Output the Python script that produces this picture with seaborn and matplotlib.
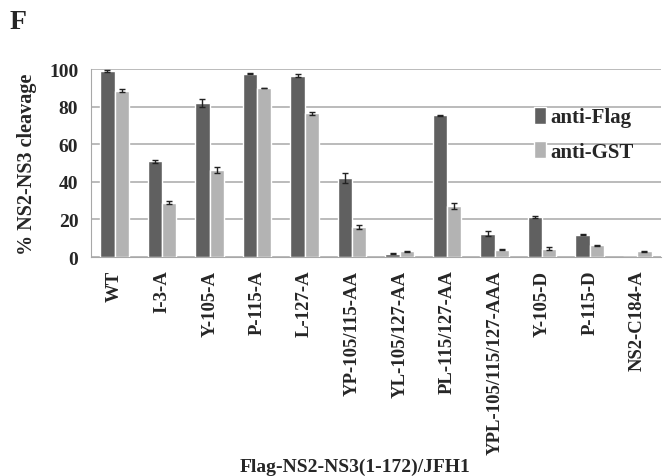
import matplotlib
matplotlib.use("Agg")
import matplotlib.pyplot as plt
import seaborn as sns
import pandas as pd
import numpy as np

categories = ["WT", "I-3-A", "Y-105-A", "P-115-A", "L-127-A", "YP-105/115-AA",
              "YL-105/127-AA", "PL-115/127-AA", "YPL-105/115/127-AAA",
              "Y-105-D", "P-115-D", "NS2-C184-A"]
flag_vals = [99.0, 51.0, 82.0, 97.5, 96.5, 42.0, 1.8, 75.5, 12.5, 21.5, 12.0, 0.0]
gst_vals = [88.5, 29.0, 46.5, 90.0, 76.5, 16.0, 3.0, 27.0, 4.0, 4.5, 6.2, 3.0]
flag_err = [0.3, 0.8, 2.3, 0.3, 0.8, 2.8, 0.3, 0.2, 1.2, 0.5, 0.3, 0.0]
gst_err = [0.7, 0.7, 1.6, 0.2, 0.8, 1.3, 0.3, 1.5, 0.3, 0.6, 0.3, 0.3]
series = ["anti-Flag", "anti-GST"]

df = pd.DataFrame({
    "mutant": categories * 2,
    "value": flag_vals + gst_vals,
    "series": [series[0]] * len(categories) + [series[1]] * len(categories),
})

sns.set_style("white")
plt.rcParams["font.family"] = ["Liberation Serif", "DejaVu Serif"]
plt.rcParams["font.weight"] = "bold"

fig = plt.figure(figsize=(6.63, 4.77), dpi=100)
ax = fig.add_axes([0.137, 0.459, 0.86, 0.394])

colors = ["#606060", "#b3b3b3"]
sns.barplot(data=df, x="mutant", y="value", hue="series", palette=colors,
            width=0.6, errorbar=None, ax=ax, zorder=3, saturation=1)

# error bars at bar centers (skip zero-height bars)
for cont, errs in zip(ax.containers, [flag_err, gst_err]):
    for p, e in zip(cont.patches, errs):
        if p.get_height() <= 0:
            continue
        ax.errorbar([p.get_x() + p.get_width() / 2], [p.get_height()], yerr=[e],
                    fmt="none", ecolor="#222222", elinewidth=1, capsize=2.5,
                    capthick=1, zorder=4)

ax.set_ylim(0, 100)
ax.set_xlim(-0.5, len(categories) - 0.5)
ax.set_yticks([0, 20, 40, 60, 80, 100])
ax.yaxis.grid(True, color="#a8a8a8", linewidth=1.1, zorder=0)
ax.set_axisbelow(True)

for s in ["top", "right"]:
    ax.spines[s].set_visible(False)
ax.spines["left"].set_color("#a8a8a8")
ax.spines["bottom"].set_color("#a8a8a8")

ax.set_xticks(np.arange(len(categories)))
ax.set_xticklabels(categories, rotation=90, fontsize=13.5, fontweight="bold")
ax.set_xticks(np.arange(len(categories) + 1) - 0.5, minor=True)
ax.tick_params(axis="x", which="major", length=0, pad=9)
ax.tick_params(axis="x", which="minor", length=6, color="#a8a8a8", width=1, direction="out")
ax.tick_params(axis="y", length=5, color="#a8a8a8", width=1, labelsize=14, pad=4)
for lbl in ax.get_yticklabels():
    lbl.set_fontweight("bold")

ax.set_xlabel("Flag-NS2-NS3(1-172)/JFH1", fontsize=14, fontweight="bold")
ax.xaxis.set_label_coords(0.463, -1.07)
ax.set_ylabel("% NS2-NS3 cleavage", fontsize=14.5, fontweight="bold", labelpad=9)

leg = ax.legend(loc="upper right", bbox_to_anchor=(0.985, 0.9), frameon=False,
                fontsize=15, handlelength=0.6, handleheight=0.9,
                handletextpad=0.2, labelspacing=0.65)
for t in leg.get_texts():
    t.set_fontweight("bold")

fig.text(0.015, 0.94, "F", fontsize=20, fontweight="bold")

fig.savefig("out.png", dpi=100)
